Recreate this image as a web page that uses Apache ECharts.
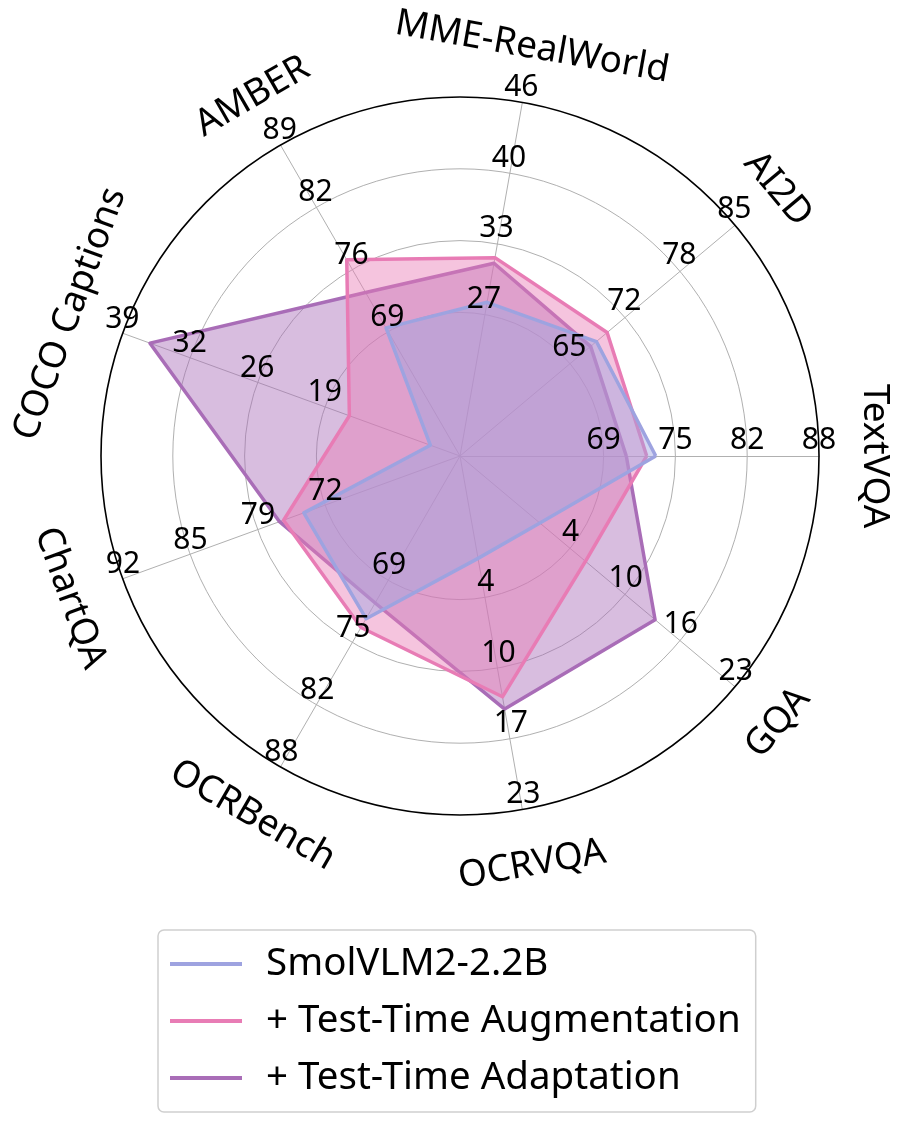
<!DOCTYPE html>
<html>
<head>
<meta charset="utf-8">
<script src="https://cdn.jsdelivr.net/npm/echarts@6/dist/echarts.min.js"></script>
<style>
html,body{margin:0;padding:0;background:#fff;}
#main{width:902px;height:1126px;}
</style>
</head>
<body>
<div id="main"></div>
<script>
// benchmarks, counter-clockwise from the right
var categories = ['TextVQA', 'AI2D', 'MME-RealWorld', 'AMBER', 'COCO Captions', 'ChartQA', 'OCRBench', 'OCRVQA', 'GQA'];
// each axis has its own range (value at centre / value at outer ring)
var axisMin = [56.33, 51.67, 14.33, 55.67, 5.67, 58.67, 56.33, -8.67, -9.2];
var axisMax = [88, 85, 46, 89, 39, 92, 88, 23, 22.8];

var seriesNames = ['SmolVLM2-2.2B', '+ Test-Time Augmentation', '+ Test-Time Adaptation'];
var smolVLM = [73.6, 68.2, 28.1, 69.4, 8.6, 74.1, 72.9, 0.5, 0.1];
var testTimeAug = [72.8, 69.5, 32.1, 76.7, 16.6, 76.1, 73.8, 12.9, 5.4];
var testTimeAdapt = [71.0, 67.5, 31.6, 73.2, 36.3, 76.5, 71.3, 14.0, 13.5];

var colors = ['#9ea3e0', '#e87cb5', '#a96db7'];
var FONT = '"Noto Sans", "Open Sans", sans-serif';

var cx = 460, cy = 456, R = 359, nameR = 415;

var chart = echarts.init(document.getElementById('main'));

var indicators = categories.map(function (name, i) {
	return {name: name, min: axisMin[i], max: axisMax[i]};
});

// names turned along the circle
var nameTexts = categories.map(function (name, i) {
	var deg = i * 360 / categories.length;
	var a = deg * Math.PI / 180;
	var rot = deg <= 180 ? deg - 90 : deg - 270;
	return {
		type: 'text',
		x: cx + nameR * Math.cos(a),
		y: cy - nameR * Math.sin(a),
		rotation: rot * Math.PI / 180,
		z: 10,
		style: {text: name, fontSize: 37, fontFamily: FONT, fill: '#000', align: 'center', verticalAlign: 'middle'}
	};
});

function item(name, values, color) {
	return {
		name: name,
		value: values,
		itemStyle: {color: color},
		lineStyle: {color: color, width: 3.5},
		areaStyle: {color: color, opacity: 0.45}
	};
}

var option = {
	backgroundColor: '#fff',
	animation: false,
	legend: {
		orient: 'vertical',
		left: 158,
		top: 930,
		data: seriesNames,
		icon: 'rect',
		itemWidth: 72,
		itemHeight: 4,
		itemGap: 17,
		padding: [14, 15, 14, 12],
		borderColor: '#cfcfcf',
		borderWidth: 1.5,
		borderRadius: 6,
		textStyle: {fontSize: 38.5, fontFamily: FONT, color: '#000', lineHeight: 40, padding: [0, 0, 0, 19]}
	},
	radar: [
		{//grid
			center: [cx, cy],
			radius: R,
			startAngle: 0,
			splitNumber: 5,
			shape: 'circle',
			indicator: indicators,
			axisName: {show: false},
			axisLine: {lineStyle: {color: '#b0b0b0', width: 1}},
			axisTick: {show: false},
			axisLabel: {show: false},
			splitLine: {lineStyle: {color: ['#b0b0b0', 'rgba(0,0,0,0)', '#b0b0b0', '#b0b0b0', '#b0b0b0', 'rgba(0,0,0,0)'], width: 1}},
			splitArea: {show: false},
			z: 1
		},
		{//outer ring + tick labels
			center: [cx, cy],
			radius: R,
			startAngle: 0,
			splitNumber: 5,
			shape: 'circle',
			indicator: indicators,
			axisName: {show: false},
			axisLine: {show: false},
			axisTick: {show: false},
			axisLabel: {
				show: true,
				margin: 1,
				fontSize: 30,
				fontFamily: FONT,
				color: '#000',
				align: 'center',
				verticalAlign: 'bottom',
				formatter: function (v, idx) {
					return idx < 2 ? '' : String(Math.round(v));
				}
			},
			splitLine: {lineStyle: {color: ['rgba(0,0,0,0)', 'rgba(0,0,0,0)', 'rgba(0,0,0,0)', 'rgba(0,0,0,0)', 'rgba(0,0,0,0)', '#000'], width: 1.6}},
			splitArea: {show: false},
			z: 5
		}
	],
	graphic: {elements: nameTexts},
	series: [{
		type: 'radar',
		radarIndex: 0,
		symbol: 'none',
		z: 2,
		// drawn purple first, blue last (on top)
		data: [
			item(seriesNames[2], testTimeAdapt, colors[2]),
			item(seriesNames[1], testTimeAug, colors[1]),
			item(seriesNames[0], smolVLM, colors[0])
		]
	}]
};
chart.setOption(option);
</script>
</body>
</html>
